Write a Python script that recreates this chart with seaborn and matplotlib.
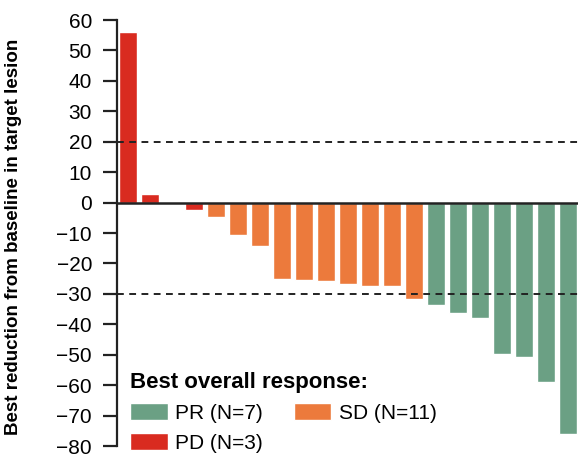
import numpy as np
import pandas as pd
import matplotlib
matplotlib.use("Agg")
import matplotlib.pyplot as plt
import seaborn as sns
from matplotlib.patches import Patch

# Best change from baseline per patient, sorted (waterfall)
values = [56, 2.9, 0, -2.4, -4.9, -10.7, -14.4, -25.0, -25.4, -25.7, -26.6,
          -27.3, -27.5, -31.8, -33.5, -36.2, -38.0, -49.9, -50.6, -58.9, -75.9]
response = ["PD", "PD", "SD", "PD", "SD", "SD", "SD", "SD", "SD", "SD", "SD",
            "SD", "SD", "SD", "PR", "PR", "PR", "PR", "PR", "PR", "PR"]
legend_labels = {"PR": "PR (N=7)", "SD": "SD (N=11)", "PD": "PD (N=3)"}
colors = {"PR": "#6ba084", "SD": "#ec7a3c", "PD": "#d92b20"}
yticks = list(range(-80, 61, 10))

sns.set_style("white")
plt.rcParams['font.family'] = ['Liberation Sans', 'DejaVu Sans']
plt.rcParams['text.color'] = 'black'

df = pd.DataFrame({"patient": range(len(values)), "change": values, "response": response})

fig = plt.figure(figsize=(5.79, 4.58), dpi=100)
ax = fig.add_axes([117 / 579, 12 / 458, 461 / 579, 426 / 458])

sns.barplot(data=df, x="patient", y="change", hue="response", palette=colors,
            dodge=False, width=0.82, saturation=1, legend=False, ax=ax)

ax.set_xlim(-0.5, len(values) - 0.55)
ax.set_ylim(-80, 60)
ax.set_yticks(yticks)
ax.set_yticklabels([f"{t}".replace("-", "\u2212") for t in yticks], fontsize=15,
                   color="black")
ax.set_xticks([])
ax.set_xlabel("")
ax.set_ylabel("Best reduction from baseline in target lesion", fontsize=13.5,
              fontweight="bold", color="black")
ax.yaxis.set_label_coords(-0.205, 0.49)

for s in ["top", "right", "bottom"]:
    ax.spines[s].set_visible(False)
ax.spines["left"].set_color("#222222")
ax.spines["left"].set_linewidth(1.6)
ax.tick_params(axis="y", direction="out", length=10, width=1.6, color="#222222",
               left=True, pad=8)

ax.axhline(0, color="#222222", lw=1.8, zorder=3)
ax.axhline(20, color="#222222", lw=1.4, ls=(0, (3.5, 2.8)), zorder=3)
ax.axhline(-30, color="#222222", lw=1.4, ls=(0, (3.5, 2.8)), zorder=3)

handles = [Patch(facecolor=colors[k], label=legend_labels[k]) for k in ["PR", "PD", "SD"]]
leg = fig.legend(handles=handles, ncol=2, loc="upper left",
                 bbox_to_anchor=(130 / 579, 1 - 372 / 458), frameon=False,
                 fontsize=15, title="Best overall response:",
                 title_fontproperties={"weight": "bold", "size": 16},
                 alignment="left", handlelength=1.8, handleheight=0.85,
                 handletextpad=0.35, columnspacing=1.5, labelspacing=0.5,
                 borderpad=0, borderaxespad=0)

fig.savefig("out.png", dpi=100)
